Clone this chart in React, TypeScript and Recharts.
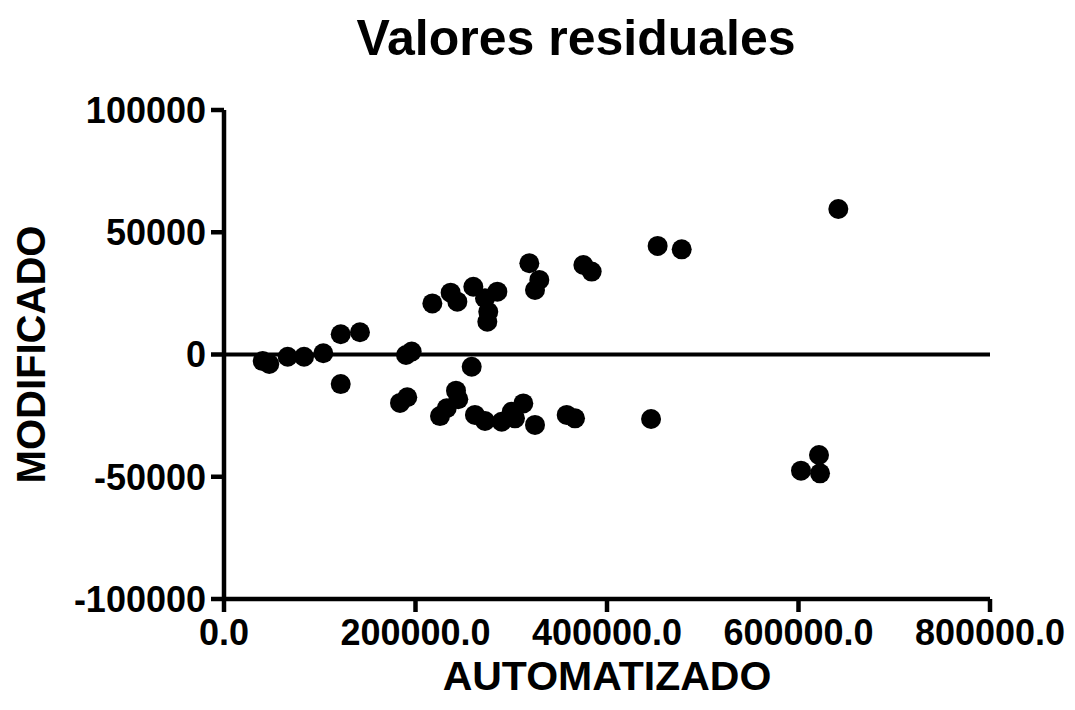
import { Label, ReferenceLine, Scatter, ScatterChart, XAxis, YAxis } from "recharts";

const automatizado = [
  40400, 47300, 66500, 83600, 103700, 121900, 142000, 121900, 190100, 196000,
  183800, 191400, 217600, 236700, 243700, 260400, 272600, 285500, 276000, 275000,
  318900, 329300, 324800, 375300, 384000, 258700, 242300, 244700, 232600, 225600,
  262100, 272600, 290000, 300500, 312600, 303900, 324800, 357900, 366600, 452900,
  478000, 641600, 446000, 602600, 621400, 622500,
];

const modificado = [
  -2700, -3900, -900, -900, 500, 8300, 9100, -12100, -200, 1200,
  -19800, -17500, 20900, 25300, 21600, 27700, 23000, 25700, 17500, 13400,
  37300, 30500, 26400, 36600, 33900, -5000, -14800, -18300, -22000, -25200,
  -24700, -27200, -27500, -23400, -20000, -26100, -28800, -24700, -26100, 44400,
  43000, 59500, -26400, -47500, -41100, -48600,
];

const xTicks = [0, 200000, 400000, 600000, 800000];
const yTicks = [-100000, -50000, 0, 50000, 100000];

const data = automatizado.map((x, i) => ({ x, y: modificado[i] }));

const FONT = "'Liberation Sans', Arial, Helvetica, sans-serif";
const axisStroke = { stroke: "#000", strokeWidth: 4.5 };
const tickStyle = { fill: "#000", fontSize: 36, fontWeight: 700, fontFamily: FONT };

export default function App() {
  return (
    <div style={{ position: "relative", width: 1075, height: 710 }}>
      <style>{"body{margin:0}"}</style>
      <svg
        width={1075}
        height={80}
        style={{ position: "absolute", left: 0, top: 0, pointerEvents: "none" }}
      >
        <text
          x={576}
          y={55}
          textAnchor="middle"
          fontSize={50}
          fontWeight={700}
          fontFamily={FONT}
          fill="#000"
        >
          Valores residuales
        </text>
      </svg>
      <ScatterChart
        width={1075}
        height={710}
        margin={{ top: 110, right: 85, left: 0, bottom: 0 }}
      >
        <XAxis
          type="number"
          dataKey="x"
          domain={[0, 800000]}
          ticks={xTicks}
          interval={0}
          height={111}
          tickSize={13}
          tickMargin={7}
          axisLine={axisStroke}
          tickLine={axisStroke}
          tick={tickStyle}
          tickFormatter={(v: number) => v.toFixed(1)}
        >
          <Label
            content={({ viewBox }: any) => (
              <text
                x={viewBox.x + viewBox.width / 2}
                y={viewBox.y + 91}
                textAnchor="middle"
                fontSize={41}
                fontWeight={700}
                fontFamily={FONT}
                fill="#000"
              >
                AUTOMATIZADO
              </text>
            )}
          />
        </XAxis>
        <YAxis
          type="number"
          dataKey="y"
          domain={[-100000, 100000]}
          ticks={yTicks}
          interval={0}
          width={224}
          tickSize={13}
          tickMargin={5}
          axisLine={axisStroke}
          tickLine={axisStroke}
          tick={tickStyle}
        >
          <Label
            content={({ viewBox }: any) => {
              const cx = viewBox.x + 31;
              const cy = viewBox.y + viewBox.height / 2;
              return (
                <text
                  x={cx}
                  y={cy}
                  transform={`rotate(-90 ${cx} ${cy})`}
                  textAnchor="middle"
                  dominantBaseline="central"
                  fontSize={40}
                  fontWeight={700}
                  fontFamily={FONT}
                  fill="#000"
                >
                  MODIFICADO
                </text>
              );
            }}
          />
        </YAxis>
        <ReferenceLine y={0} stroke="#000" strokeWidth={4} />
        <Scatter
          data={data}
          isAnimationActive={false}
          shape={(props: any) => <circle cx={props.cx} cy={props.cy} r={10} fill="#000" />}
        />
      </ScatterChart>
    </div>
  );
}
